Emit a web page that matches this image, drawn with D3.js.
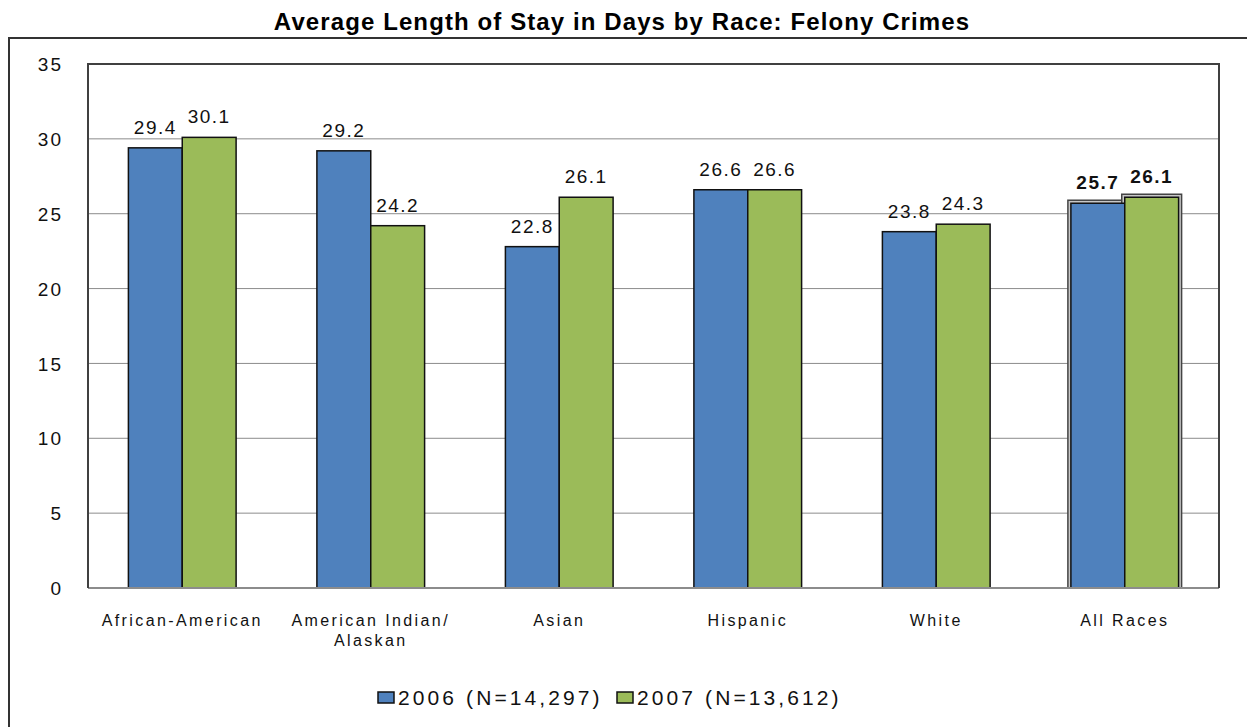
<!DOCTYPE html>
<html>
<head>
<meta charset="utf-8">
<script src="https://cdn.jsdelivr.net/npm/d3@7"></script>
<style>
  body { margin: 0; background: #fff; }
  svg text { font-family: Arial, "Liberation Sans", sans-serif; fill: #111; }
</style>
</head>
<body>
<div class="chart"></div>
<script>
// data
var categories = ["African-American", "American Indian/\nAlaskan", "Asian", "Hispanic", "White", "All Races"];
var series = ["2006 (N=14,297)", "2007 (N=13,612)"];
var values2006 = [29.4, 29.2, 22.8, 26.6, 23.8, 25.7];
var values2007 = [30.1, 24.2, 26.1, 26.6, 24.3, 26.1];
var yTicks = [0, 5, 10, 15, 20, 25, 30, 35];
var colors = ["#4F81BD", "#9BBB59"];

var svgWidth = 1247, svgHeight = 727;
var margin = { top: 64, right: 28, bottom: 139, left: 88 };
var width = svgWidth - margin.left - margin.right;
var height = svgHeight - margin.top - margin.bottom;

var svg = d3.select(".chart")
            .append("svg")
            .attr("width", svgWidth)
            .attr("height", svgHeight);

// outer frame (runs off the right and bottom of the picture)
svg.append("rect")
   .attr("x", 9).attr("y", 38)
   .attr("width", svgWidth + 20).attr("height", svgHeight)
   .attr("fill", "none")
   .attr("stroke", "#333")
   .attr("stroke-width", 2);

// title
svg.append("text")
   .attr("x", 622)
   .attr("y", 30)
   .attr("text-anchor", "middle")
   .style("font-size", "24px")
   .style("font-weight", "bold")
   .style("letter-spacing", "1.1px")
   .style("fill", "#000")
   .text("Average Length of Stay in Days by Race: Felony Crimes");

var chartGroup = svg.append("g")
                    .attr("transform", `translate(${margin.left}, ${margin.top})`);

// scales
var xScale = d3.scaleBand()
  .domain(categories)
  .range([0, width])
  .paddingInner(0.4286)
  .paddingOuter(0.2143);

var xInner = d3.scaleBand()
  .domain(series)
  .range([0, xScale.bandwidth()])
  .padding(0);

var yScale = d3.scaleLinear()
  .domain([0, 35])
  .range([height, 0]);

// gridlines
chartGroup.append("g")
  .selectAll("line")
  .data(yTicks.filter(d => d > 0 && d < 35))
  .enter()
  .append("line")
  .attr("x1", 0).attr("x2", width)
  .attr("y1", d => yScale(d)).attr("y2", d => yScale(d))
  .attr("stroke", "#8c8c8c")
  .attr("stroke-width", 1);

// y axis labels (no tick marks, no domain line)
var leftAxis = d3.axisLeft(yScale).tickValues(yTicks).tickSize(0).tickPadding(25);
var yAxisG = chartGroup.append("g").call(leftAxis);
yAxisG.select(".domain").remove();
yAxisG.selectAll("text")
  .style("font-size", "19px")
  .style("letter-spacing", "2px")
  .attr("dy", "0.35em");

// bars
var rows = categories.map((c, i) => ({ cat: c, vals: [values2006[i], values2007[i]] }));

var groups = chartGroup.selectAll(".grp")
  .data(rows)
  .enter()
  .append("g")
  .attr("class", "grp")
  .attr("transform", d => `translate(${xScale(d.cat)}, 0)`);

var barData = d => d.vals.map((v, j) => ({ cat: d.cat, s: series[j], v: v, j: j, total: d.cat === "All Races" }));

// highlight frame behind the "All Races" bars
groups.filter(d => d.cat === "All Races")
  .selectAll(".halo")
  .data(barData)
  .enter()
  .append("rect")
  .attr("x", d => xInner(d.s) - 3)
  .attr("y", d => yScale(d.v) - 3)
  .attr("width", xInner.bandwidth() + 6)
  .attr("height", d => height - yScale(d.v) + 3)
  .attr("fill", "#c8c8c8")
  .attr("stroke", "#444")
  .attr("stroke-width", 1.5);

groups.selectAll(".bar")
  .data(barData)
  .enter()
  .append("rect")
  .attr("class", "bar")
  .attr("x", d => xInner(d.s))
  .attr("y", d => yScale(d.v))
  .attr("width", xInner.bandwidth())
  .attr("height", d => height - yScale(d.v))
  .attr("fill", d => colors[d.j])
  .attr("stroke", "#111")
  .attr("stroke-width", 1.5);

// value labels
groups.selectAll(".val")
  .data(barData)
  .enter()
  .append("text")
  .attr("x", d => xInner(d.s) + xInner.bandwidth() / 2)
  .attr("y", d => yScale(d.v) - 14)
  .attr("text-anchor", "middle")
  .style("font-size", "19px")
  .style("letter-spacing", "1.5px")
  .style("font-weight", d => d.total ? "bold" : "normal")
  .text(d => d.v.toFixed(1));

// baseline
chartGroup.append("line")
  .attr("x1", 0).attr("x2", width)
  .attr("y1", height).attr("y2", height)
  .attr("stroke", "#8c8c8c")
  .attr("stroke-width", 2);

// plot frame left / top / right
chartGroup.append("path")
  .attr("d", `M0,${height}V0H${width}V${height}`)
  .attr("fill", "none")
  .attr("stroke", "#404040")
  .attr("stroke-width", 2);

// category labels
var bottomAxis = d3.axisBottom(xScale).tickSize(0).tickPadding(0);
var xAxisG = chartGroup.append("g")
  .attr("transform", `translate(0, ${height})`)
  .call(bottomAxis);
xAxisG.select(".domain").remove();
xAxisG.selectAll("text").remove();
xAxisG.selectAll(".tick").each(function (c) {
  var t = d3.select(this).append("text")
    .attr("text-anchor", "middle")
    .attr("y", 38)
    .style("font-size", "16px")
    .style("letter-spacing", "2.4px")
    .style("fill", "#111");
  c.split("\n").forEach(function (line, k) {
    t.append("tspan").attr("x", 0).attr("dy", k === 0 ? 0 : 20).text(line);
  });
});

// legend
var legend = svg.append("g").attr("transform", "translate(378, 692)");
var legendX = [0, 239];
series.forEach(function (s, j) {
  var g = legend.append("g").attr("transform", `translate(${legendX[j]}, 0)`);
  g.append("rect")
    .attr("width", 16).attr("height", 11)
    .attr("fill", colors[j])
    .attr("stroke", "#111")
    .attr("stroke-width", 1.5);
  g.append("text")
    .attr("x", 20)
    .attr("y", 13)
    .style("font-size", "21px")
    .style("letter-spacing", "3.1px")
    .text(s);
});
</script>
</body>
</html>
